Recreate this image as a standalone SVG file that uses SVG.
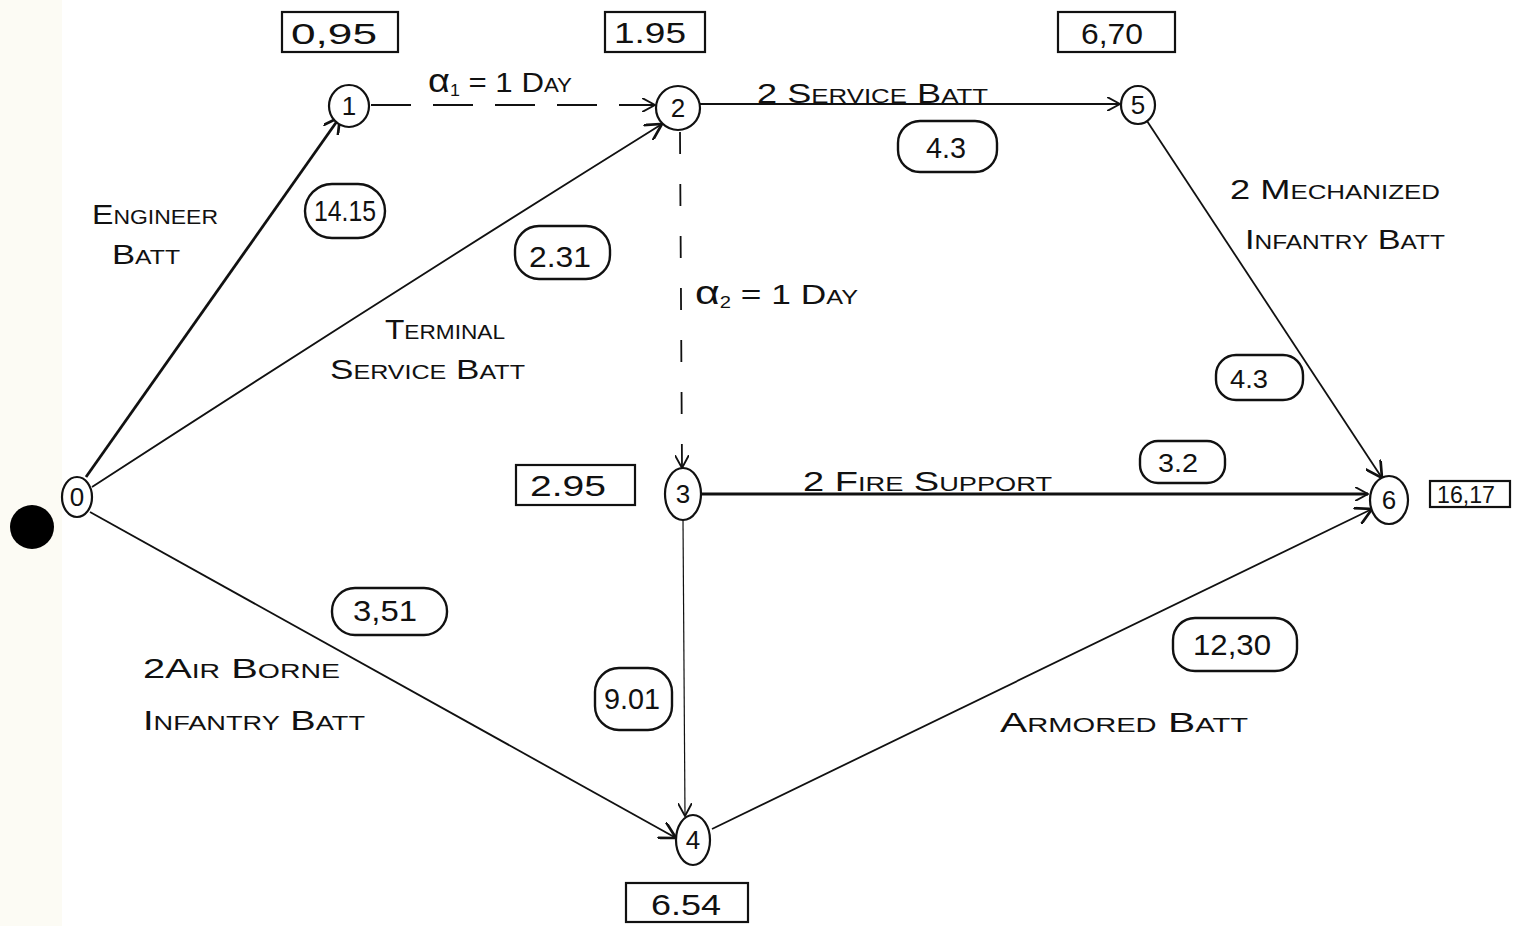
<svg xmlns="http://www.w3.org/2000/svg" width="1524" height="926" viewBox="0 0 1524 926">
<style>
.bg{fill:#ffffff}
.edge{stroke:#111;fill:none;stroke-width:1.8}
.thick{stroke-width:2.8}
.thin{stroke-width:1.2}
.dash{stroke-dasharray:40 22}
.vdash{stroke-dasharray:22 30}
.node{fill:#fff;stroke:#111;stroke-width:2.2}
.nlab{font-family:"Liberation Sans","DejaVu Sans",sans-serif;font-size:26px;fill:#111;text-anchor:middle}
.box{fill:#fff;stroke:#111;stroke-width:2.2}
.num{font-family:"Liberation Sans","DejaVu Sans",sans-serif;font-size:30px;fill:#111;text-anchor:middle}
.dur{fill:#fff;stroke:#111;stroke-width:2.4}
.lab{font-family:"Liberation Sans","DejaVu Sans",sans-serif;font-size:28px;fill:#111;font-variant:small-caps}
.greek{font-variant:normal;font-size:34px}
</style>
<defs>
<marker id="arr" viewBox="0 0 12 12" refX="11" refY="6" markerWidth="14" markerHeight="14" markerUnits="userSpaceOnUse" orient="auto">
<path d="M0,0 L11,6 L0,12" fill="none" stroke="#111" stroke-width="1.6"/>
</marker>
<marker id="arrB" viewBox="0 0 12 12" refX="11" refY="6" markerWidth="18" markerHeight="18" markerUnits="userSpaceOnUse" orient="auto">
<path d="M0,0 L11,6 L0,12" fill="none" stroke="#111" stroke-width="1.8"/>
</marker>
</defs>
<rect class="bg" x="0" y="0" width="1524" height="926"/>
<rect x="0" y="0" width="62" height="926" fill="#fcfbf4"/>
<circle cx="32" cy="527" r="22" fill="#000"/>

<g id="connectors">
<line class="edge thick" x1="86" y1="477" x2="340" y2="117" marker-end="url(#arrB)"/>
<path class="edge" d="M92,487 Q380,300 662,124" marker-end="url(#arrB)"/>
<line class="edge dash" x1="371" y1="105" x2="655" y2="105" marker-end="url(#arr)"/>
<line class="edge" x1="700" y1="104" x2="1120" y2="104" marker-end="url(#arr)"/>
<line class="edge vdash" x1="680" y1="132" x2="682" y2="468" marker-end="url(#arr)"/>
<line class="edge" x1="1147" y1="121" x2="1382" y2="478" marker-end="url(#arrB)"/>
<line class="edge thick" x1="702" y1="494" x2="1368" y2="494" marker-end="url(#arr)"/>
<line class="edge thin" x1="683" y1="520" x2="685" y2="816" marker-end="url(#arr)"/>
<line class="edge" x1="90" y1="512" x2="676" y2="838" marker-end="url(#arrB)"/>
<line class="edge" x1="712" y1="829" x2="1372" y2="509" marker-end="url(#arrB)"/>
</g>

<g id="node0"><ellipse class="node" cx="77" cy="497" rx="15" ry="20"/><text class="nlab" x="77" y="506">0</text></g>
<g id="node1"><ellipse class="node" cx="349" cy="106" rx="20" ry="21"/><text class="nlab" x="349" y="115">1</text></g>
<g id="node2"><ellipse class="node" cx="678" cy="108" rx="22" ry="22"/><text class="nlab" x="678" y="117">2</text></g>
<g id="node5"><ellipse class="node" cx="1138" cy="105" rx="17" ry="19"/><text class="nlab" x="1138" y="114">5</text></g>
<g id="node3"><ellipse class="node" cx="683" cy="494" rx="18" ry="26"/><text class="nlab" x="683" y="503">3</text></g>
<g id="node6"><ellipse class="node" cx="1389" cy="500" rx="19" ry="24"/><text class="nlab" x="1389" y="509">6</text></g>
<g id="node4"><ellipse class="node" cx="693" cy="840" rx="17" ry="25"/><text class="nlab" x="693" y="849">4</text></g>

<g id="times">
<rect class="box" x="282" y="12" width="116" height="40"/><text class="num" x="334" y="44" textLength="86" lengthAdjust="spacingAndGlyphs">0,95</text>
<rect class="box" x="605" y="12" width="100" height="40"/><text class="num" x="650" y="43" textLength="72" lengthAdjust="spacingAndGlyphs">1.95</text>
<rect class="box" x="1058" y="12" width="117" height="40"/><text class="num" x="1112" y="44" textLength="62" lengthAdjust="spacingAndGlyphs">6,70</text>
<rect class="box" x="516" y="465" width="119" height="40"/><text class="num" x="568" y="496" textLength="76" lengthAdjust="spacingAndGlyphs">2.95</text>
<rect class="box" x="1430" y="481" width="80" height="26"/><text class="num" x="1466" y="503" style="font-size:24px" textLength="58" lengthAdjust="spacingAndGlyphs">16,17</text>
<rect class="box" x="626" y="883" width="122" height="39"/><text class="num" x="686" y="915" textLength="70" lengthAdjust="spacingAndGlyphs">6.54</text>
</g>

<g id="durations">
<rect class="dur" x="305" y="184" width="80" height="54" rx="27"/><text class="num" x="345" y="221" textLength="62" lengthAdjust="spacingAndGlyphs">14.15</text>
<rect class="dur" x="515" y="226" width="95" height="53" rx="24"/><text class="num" x="560" y="267" textLength="62" lengthAdjust="spacingAndGlyphs">2.31</text>
<rect class="dur" x="898" y="121" width="99" height="51" rx="22"/><text class="num" x="946" y="158" textLength="40" lengthAdjust="spacingAndGlyphs">4.3</text>
<rect class="dur" x="1216" y="355" width="87" height="45" rx="20"/><text class="num" x="1249" y="388" style="font-size:26px" textLength="38" lengthAdjust="spacingAndGlyphs">4.3</text>
<rect class="dur" x="1140" y="441" width="85" height="42" rx="18"/><text class="num" x="1178" y="472" style="font-size:26px" textLength="40" lengthAdjust="spacingAndGlyphs">3.2</text>
<rect class="dur" x="332" y="588" width="115" height="47" rx="23"/><text class="num" x="385" y="621" textLength="64" lengthAdjust="spacingAndGlyphs">3,51</text>
<rect class="dur" x="595" y="668" width="77" height="62" rx="24"/><text class="num" x="632" y="709" textLength="56" lengthAdjust="spacingAndGlyphs">9.01</text>
<rect class="dur" x="1173" y="618" width="124" height="53" rx="22"/><text class="num" x="1232" y="655" textLength="78" lengthAdjust="spacingAndGlyphs">12,30</text>
</g>

<g id="labels">
<text class="lab" x="92" y="224" textLength="126" lengthAdjust="spacingAndGlyphs">Engineer</text>
<text class="lab" x="112" y="264" textLength="68" lengthAdjust="spacingAndGlyphs">Batt</text>
<text class="lab" x="428" y="92" textLength="144" lengthAdjust="spacingAndGlyphs"><tspan class="greek">α</tspan><tspan style="font-size:16px" dy="4">1</tspan><tspan dy="-4"> = 1 Day</tspan></text>
<text class="lab" x="757" y="103" textLength="231" lengthAdjust="spacingAndGlyphs">2 Service Batt</text>
<text class="lab" x="1230" y="199" textLength="210" lengthAdjust="spacingAndGlyphs">2 Mechanized</text>
<text class="lab" x="1245" y="249" textLength="200" lengthAdjust="spacingAndGlyphs">Infantry Batt</text>
<text class="lab" x="695" y="304" textLength="163" lengthAdjust="spacingAndGlyphs"><tspan class="greek">α</tspan><tspan style="font-size:16px" dy="4">2</tspan><tspan dy="-4"> = 1 Day</tspan></text>
<text class="lab" x="385" y="339" textLength="120" lengthAdjust="spacingAndGlyphs">Terminal</text>
<text class="lab" x="330" y="379" textLength="195" lengthAdjust="spacingAndGlyphs">Service Batt</text>
<text class="lab" x="803" y="491" textLength="249" lengthAdjust="spacingAndGlyphs">2 Fire Support</text>
<text class="lab" x="143" y="678" textLength="197" lengthAdjust="spacingAndGlyphs">2Air Borne</text>
<text class="lab" x="143" y="730" textLength="222" lengthAdjust="spacingAndGlyphs">Infantry Batt</text>
<text class="lab" x="1000" y="732" textLength="248" lengthAdjust="spacingAndGlyphs">Armored Batt</text>
</g>
</svg>
